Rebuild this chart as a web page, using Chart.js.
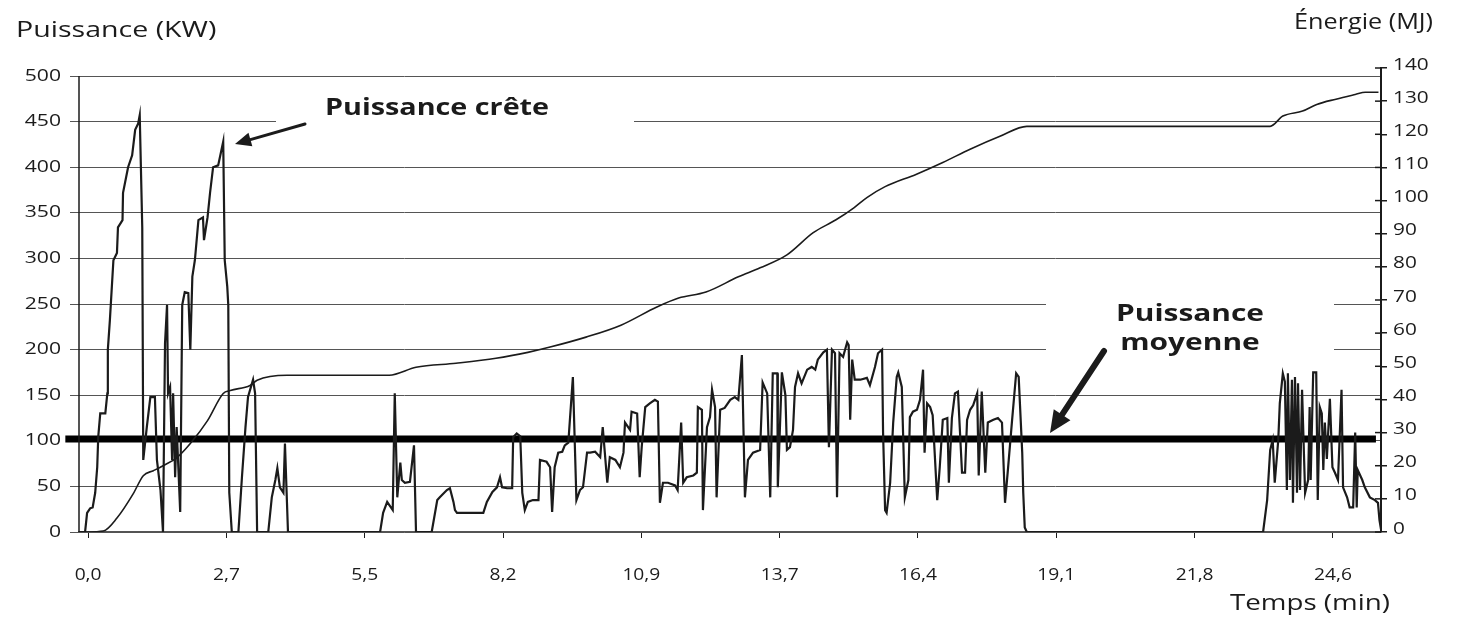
<!DOCTYPE html>
<html>
<head>
<meta charset="utf-8">
<script src="https://cdn.jsdelivr.net/npm/chart.js@4/dist/chart.umd.min.js"></script>
<style>
  html, body { margin: 0; padding: 0; background: #fff; }
  canvas { display: block; }
</style>
</head>
<body>
<canvas id="chart" width="1458" height="618"></canvas>
<script>
// temps (min), puissance (kW)
const powerSamples = [
  [-0.18, 0], [-0.06, 0], [-0.02, 21], [0.04, 26], [0.09, 27], [0.14, 43], [0.18, 71], [0.20, 104],
  [0.24, 130], [0.34, 130], [0.38, 152], [0.39, 200], [0.43, 232], [0.50, 298], [0.57, 306],
  [0.59, 334], [0.68, 342], [0.69, 372], [0.79, 400], [0.87, 413], [0.93, 441], [0.99, 448],
  [1.02, 457], [1.07, 334], [1.09, 79], [1.16, 115], [1.23, 148], [1.32, 148], [1.36, 79],
  [1.43, 46], [1.48, 0], [1.52, 207], [1.56, 249], [1.58, 152], [1.62, 159], [1.66, 79],
  [1.68, 152], [1.72, 60], [1.75, 115], [1.82, 22], [1.86, 249], [1.91, 263], [1.98, 262],
  [2.02, 200], [2.06, 280], [2.11, 298], [2.18, 342], [2.27, 345], [2.29, 320], [2.36, 345],
  [2.41, 372], [2.47, 400], [2.57, 402], [2.67, 428], [2.70, 298], [2.75, 269], [2.77, 249],
  [2.79, 43], [2.84, 0], [2.97, 0], [3.04, 60], [3.11, 115], [3.16, 148], [3.26, 167],
  [3.30, 152], [3.34, 0], [3.56, 0], [3.63, 38], [3.70, 57], [3.74, 70], [3.79, 49],
  [3.86, 43], [3.89, 97], [3.93, 32], [3.95, 0],
  [5.77, 0], [5.83, 21], [5.91, 33], [6.02, 24], [6.06, 152], [6.11, 38], [6.17, 76],
  [6.20, 57], [6.26, 54], [6.36, 55], [6.44, 95], [6.48, 0],
  [6.79, 0], [6.90, 35], [6.95, 38], [7.09, 46], [7.15, 48], [7.22, 33], [7.25, 24], [7.29, 21],
  [7.81, 21], [7.88, 33], [7.99, 44], [8.08, 49], [8.14, 60], [8.18, 49], [8.28, 48], [8.38, 48],
  [8.40, 104], [8.47, 108], [8.54, 105], [8.58, 43], [8.63, 24], [8.69, 33], [8.79, 35],
  [8.90, 35], [8.93, 79], [9.06, 77], [9.13, 71], [9.17, 22], [9.22, 71], [9.29, 87],
  [9.37, 88], [9.42, 95], [9.49, 98], [9.58, 170], [9.65, 35], [9.72, 46], [9.78, 49],
  [9.86, 87], [9.92, 87], [10.02, 88], [10.12, 82], [10.17, 115], [10.26, 54], [10.31, 82],
  [10.42, 79], [10.51, 71], [10.58, 87], [10.61, 120], [10.71, 112], [10.74, 132], [10.85, 130],
  [10.90, 60], [10.94, 93], [11.01, 137], [11.10, 141], [11.20, 145], [11.26, 143], [11.30, 32],
  [11.36, 54], [11.46, 54], [11.60, 51], [11.65, 46], [11.72, 120], [11.76, 54], [11.83, 60],
  [11.96, 62], [12.03, 65], [12.05, 137], [12.13, 134], [12.15, 24], [12.23, 115], [12.29, 126],
  [12.33, 156], [12.39, 137], [12.42, 38], [12.49, 134], [12.58, 136], [12.69, 145], [12.78, 148],
  [12.85, 145], [12.92, 194], [12.98, 38], [13.04, 79], [13.14, 87], [13.28, 90], [13.33, 164],
  [13.42, 152], [13.48, 38], [13.53, 174], [13.62, 174], [13.63, 49], [13.71, 175], [13.78, 150],
  [13.81, 90], [13.87, 93], [13.93, 112], [13.97, 159], [14.03, 174], [14.10, 163], [14.21, 178],
  [14.30, 181], [14.37, 178], [14.42, 189], [14.53, 197], [14.60, 200], [14.64, 93], [14.70, 200],
  [14.76, 196], [14.80, 38], [14.85, 196], [14.92, 192], [15.00, 208], [15.03, 205], [15.06, 123],
  [15.10, 189], [15.15, 167], [15.26, 167], [15.39, 169], [15.45, 161], [15.55, 181], [15.61, 196],
  [15.69, 200], [15.71, 109], [15.75, 24], [15.78, 21], [15.85, 54], [15.91, 120], [15.98, 170],
  [16.01, 175], [16.08, 159], [16.14, 38], [16.21, 57], [16.24, 126], [16.30, 132], [16.38, 134],
  [16.44, 145], [16.50, 178], [16.53, 87], [16.58, 141], [16.64, 137], [16.69, 128], [16.78, 35],
  [16.83, 71], [16.89, 123], [16.98, 125], [17.01, 54], [17.07, 125], [17.13, 152], [17.19, 154],
  [17.27, 65], [17.33, 65], [17.37, 123], [17.43, 134], [17.49, 139], [17.57, 152], [17.60, 62],
  [17.66, 154], [17.73, 65], [17.78, 120], [17.89, 123], [17.98, 125], [18.06, 120], [18.12, 32],
  [18.18, 70], [18.26, 123], [18.34, 174], [18.39, 170], [18.46, 87], [18.48, 43], [18.51, 5],
  [18.55, 0],
  [23.22, 0], [23.30, 35], [23.36, 90], [23.41, 101], [23.45, 54], [23.52, 101], [23.55, 141],
  [23.61, 174], [23.65, 165], [23.69, 46], [23.71, 174], [23.75, 57], [23.79, 167], [23.81, 32],
  [23.85, 170], [23.89, 43], [23.91, 163], [23.95, 46], [23.99, 156], [24.05, 43], [24.11, 57],
  [24.14, 137], [24.16, 57], [24.21, 175], [24.27, 175], [24.30, 35], [24.34, 137], [24.38, 130],
  [24.41, 68], [24.44, 120], [24.48, 80], [24.54, 146], [24.59, 71], [24.64, 65], [24.70, 57],
  [24.77, 156], [24.80, 49], [24.88, 38], [24.93, 27], [25.00, 27], [25.04, 109], [25.07, 27],
  [25.09, 68], [25.18, 57], [25.23, 49], [25.33, 38], [25.43, 35], [25.49, 32], [25.52, 13],
  [25.55, 3]
];

// temps (min), énergie cumulée (MJ)
const energySamples = [
  [-0.06, 0], [0.30, 0.3], [0.57, 4.2], [0.89, 11.5], [1.09, 17], [1.29, 18.5], [1.48, 20],
  [1.75, 22.4], [2.02, 26.7], [2.36, 33.6], [2.67, 41.8], [2.81, 42.7], [3.20, 44.2],
  [3.34, 45.8], [3.93, 47.3], [5.95, 47.3], [6.48, 49.7], [7.27, 50.9], [8.06, 52.4],
  [8.69, 54.2], [9.13, 55.8], [9.84, 58.8], [10.53, 62.4], [11.24, 67.9], [11.67, 70.6],
  [12.21, 72.4], [12.85, 77], [13.28, 79.7], [13.81, 83.6], [14.33, 90.3], [14.78, 94.2],
  [15.14, 97.9], [15.39, 100.9], [15.75, 104.2], [16.36, 107.9], [16.89, 111.5], [17.43, 115.5],
  [18.02, 119.4], [18.55, 122.4], [23.36, 122.4], [23.61, 125.5], [24.00, 127], [24.28, 129],
  [24.66, 130.6], [25.04, 132], [25.24, 132.7], [25.50, 132.7]
];

const meanPower = 102;
const meanSpan = [-0.45, 25.45];

const timeTicks = [0, 2.733, 5.467, 8.2, 10.933, 13.667, 16.4, 19.133, 21.867, 24.6];
const timeLabels = ['0,0', '2,7', '5,5', '8,2', '10,9', '13,7', '16,4', '19,1', '21,8', '24,6'];
const powerTicks = [0, 50, 100, 150, 200, 250, 300, 350, 400, 450, 500];
const energyTicks = [0, 10, 20, 30, 40, 50, 60, 70, 80, 90, 100, 110, 120, 130, 140];

const INK = '#1b1b1b';
const FONT = '"Open Sans", "DejaVu Sans", sans-serif';

// texte élargi horizontalement (le document d'origine est un scan étiré)
function wideText(ctx, text, x, y, font, align, sx) {
    ctx.save();
    ctx.font = font;
    ctx.fillStyle = INK;
    ctx.textBaseline = 'middle';
    ctx.textAlign = align;
    ctx.translate(x, y);
    ctx.scale(sx, 1);
    ctx.fillText(text, 0, 0);
    ctx.restore();
}

function arrow(ctx, x1, y1, x2, y2, w, head, headW) {
    const a = Math.atan2(y2 - y1, x2 - x1);
    const bx = x2 - head * Math.cos(a), by = y2 - head * Math.sin(a);
    ctx.save();
    ctx.strokeStyle = INK;
    ctx.fillStyle = INK;
    ctx.lineWidth = w;
    ctx.lineCap = 'round';
    ctx.beginPath();
    ctx.moveTo(x1, y1);
    ctx.lineTo(bx, by);
    ctx.stroke();
    ctx.beginPath();
    ctx.moveTo(x2, y2);
    ctx.lineTo(bx + headW * Math.sin(a), by - headW * Math.cos(a));
    ctx.lineTo(bx - headW * Math.sin(a), by + headW * Math.cos(a));
    ctx.closePath();
    ctx.fill();
    ctx.restore();
}

const decorations = {
    id: 'decorations',
    beforeDatasetsDraw(chart) {
        // fond blanc des étiquettes (coupe les lignes de grille)
        const ctx = chart.ctx;
        ctx.save();
        ctx.fillStyle = '#fff';
        ctx.fillRect(276, 92, 358, 44);
        ctx.fillRect(1046, 290, 288, 82);
        ctx.restore();
    },
    afterDraw(chart) {
        const ctx = chart.ctx;
        const { x, y, y1 } = chart.scales;

        ctx.save();
        ctx.strokeStyle = INK;
        // axe gauche, de 0 à 500 seulement
        ctx.lineWidth = 1.5;
        ctx.beginPath();
        ctx.moveTo(y.right, y.getPixelForValue(500));
        ctx.lineTo(y.right, y.bottom);
        ctx.stroke();
        // graduations intérieures de l'axe droit
        energyTicks.forEach(v => {
            const py = y1.getPixelForValue(v);
            ctx.beginPath();
            ctx.moveTo(y1.left - 6, py);
            ctx.lineTo(y1.left, py);
            ctx.stroke();
        });
        ctx.restore();

        // étiquettes des axes
        const tickFont = '16px ' + FONT;
        powerTicks.forEach(v => wideText(ctx, String(v), 61, y.getPixelForValue(v), tickFont, 'right', 1.32));
        energyTicks.forEach(v => wideText(ctx, String(v), 1393, y1.getPixelForValue(v) - 3, tickFont, 'left', 1.3));
        timeTicks.forEach((v, i) => wideText(ctx, timeLabels[i], x.getPixelForValue(v), 575, tickFont, 'center', 1.2));

        wideText(ctx, 'Puissance (KW)', 16, 31, '21px ' + FONT, 'left', 1.36);
        wideText(ctx, 'Énergie (MJ)', 1433, 23, '21px ' + FONT, 'right', 1.2);
        wideText(ctx, 'Temps (min)', 1230, 604, '21px ' + FONT, 'left', 1.32);

        const bold = 'bold 23px ' + FONT;
        wideText(ctx, 'Puissance crête', 325, 108, bold, 'left', 1.25);
        wideText(ctx, 'Puissance', 1190, 314, bold, 'center', 1.3);
        wideText(ctx, 'moyenne', 1190, 343, bold, 'center', 1.3);

        arrow(ctx, 305, 124, 235, 144, 3, 16, 7);
        arrow(ctx, 1104, 351, 1050, 433, 6, 22, 10);
    }
};

new Chart(document.getElementById('chart'), {
    type: 'line',
    data: {
        datasets: [
            {
                label: 'Énergie',
                data: energySamples.map(([t, v]) => ({ x: t, y: v })),
                yAxisID: 'y1',
                borderColor: INK,
                borderWidth: 1.6,
                pointRadius: 0,
                cubicInterpolationMode: 'monotone'
            },
            {
                label: 'Puissance',
                data: powerSamples.map(([t, v]) => ({ x: t, y: v })),
                yAxisID: 'y',
                borderColor: INK,
                borderWidth: 2.2,
                pointRadius: 0,
                tension: 0
            },
            {
                label: 'Puissance moyenne',
                data: meanSpan.map(t => ({ x: t, y: meanPower })),
                yAxisID: 'y',
                borderColor: '#000',
                borderWidth: 7,
                pointRadius: 0,
                clip: false
            }
        ]
    },
    options: {
        responsive: false,
        animation: false,
        layout: { padding: { top: 68, left: 0, right: 0, bottom: 0 } },
        plugins: { legend: { display: false }, tooltip: { enabled: false } },
        scales: {
            x: {
                type: 'linear',
                min: -0.18,
                max: 25.55,
                afterBuildTicks: s => { s.ticks = timeTicks.map(v => ({ value: v })); },
                afterFit: s => { s.height = 86; },
                border: { color: '#555', width: 1.5 },
                grid: { drawOnChartArea: false, color: INK, tickLength: 6 },
                ticks: { display: false }
            },
            y: {
                position: 'left',
                min: 0,
                max: 508.8,
                afterBuildTicks: s => { s.ticks = powerTicks.map(v => ({ value: v })); },
                afterFit: s => { s.width = 79; },
                border: { display: false },
                grid: { color: '#555', lineWidth: 1, tickLength: 9 },
                ticks: { display: false }
            },
            y1: {
                position: 'right',
                min: 0,
                max: 140,
                afterBuildTicks: s => { s.ticks = energyTicks.map(v => ({ value: v })); },
                afterFit: s => { s.width = 77; },
                border: { color: INK, width: 2 },
                grid: { drawOnChartArea: false, color: INK, tickLength: 6, lineWidth: 1.5 },
                ticks: { display: false }
            }
        }
    },
    plugins: [decorations]
});
</script>
</body>
</html>
